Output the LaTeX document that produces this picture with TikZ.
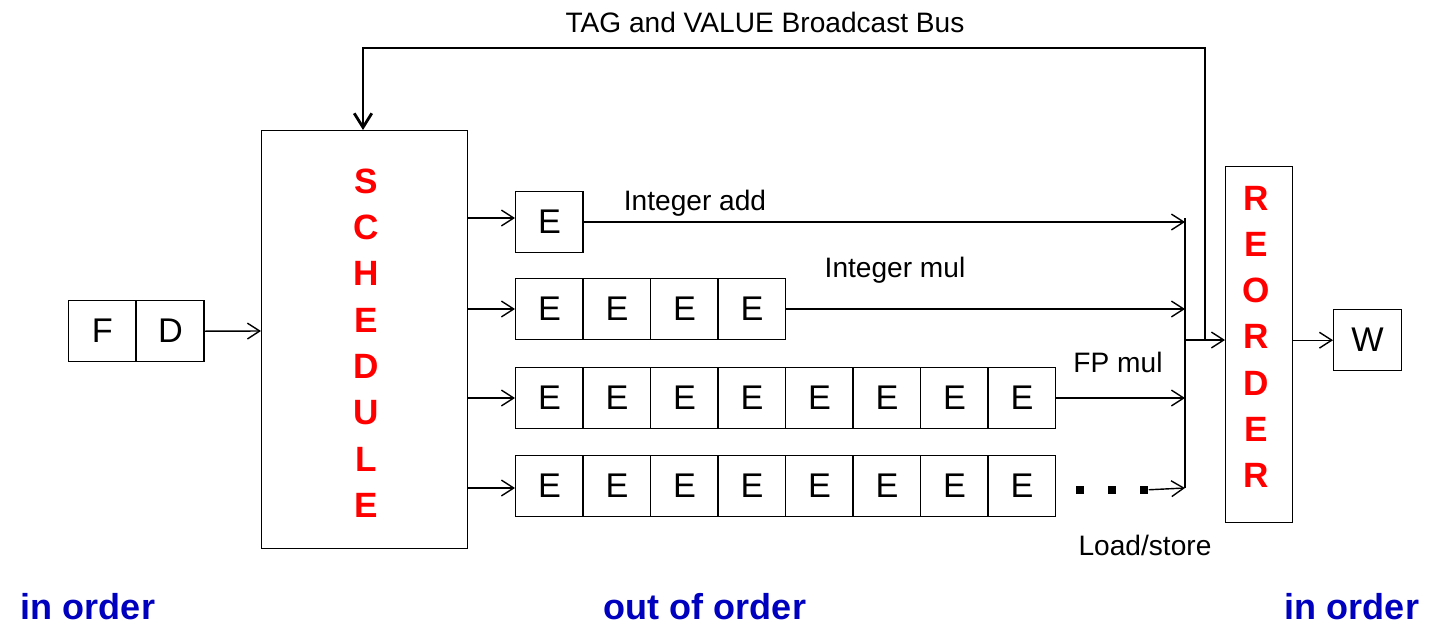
\documentclass[tikz,border=0pt]{standalone}
\usepackage{fontspec}
\setmainfont{Liberation Sans}
\usetikzlibrary{arrows.meta}
\begin{document}
\begin{tikzpicture}[x=0.02cm,y=-0.02cm,
  box/.style={draw,line width=0.8pt,minimum width=1.35cm,minimum height=1.22cm,inner sep=0pt,font=\fontsize{19.5}{19}\selectfont,anchor=north west},
  arr/.style={line width=0.8pt,-{Straight Barb[length=7pt,width=9pt]}},
  lab/.style={font=\fontsize{16}{16}\selectfont},
  dot/.style={fill,minimum size=5pt,inner sep=0pt},
  red letter/.style={text=red,font=\bfseries\fontsize{20}{20}\selectfont},
  blue/.style={text=blue!75!black,font=\bfseries\fontsize{20.5}{20}\selectfont}]
\useasboundingbox (0,0) rectangle (1440,633);
% F D
\node[box] (F) at (68,300) {F};
\node[box] (D) at (136,300) {D};
% schedule
\node[draw,line width=0.8pt,minimum width=4.12cm,minimum height=8.36cm,anchor=north west,inner sep=0pt] (S) at (261,130) {};
\foreach \l [count=\i] in {S,C,H,E,D,U,L,E}
  \node[red letter] (s\i) at (366,135+46.3*\i) {\l};
\coordinate (dIn) at (261,331);
\draw[arr] (D.east) -- (dIn);
% rows
\node[box] (r1e1) at (515,191) {E};
\foreach \i in {1,...,4} \node[box] (r2e\i) at (515+67.5*\i-67.5,278) {E};
\foreach \i in {1,...,8} \node[box] (r3e\i) at (515+67.5*\i-67.5,367) {E};
\foreach \i in {1,...,8} \node[box] (r4e\i) at (515+67.5*\i-67.5,455) {E};
\foreach \r/\y in {1/218,2/309,3/398,4/488} {
  \coordinate (sOut\r) at (467,\y);
}
\draw[arr] (sOut1) -- (r1e1.west |- sOut1);
\draw[arr] (sOut2) -- (r2e1.west |- sOut2);
\draw[arr] (sOut3) -- (r3e1.west |- sOut3);
\draw[arr] (sOut4) -- (r4e1.west |- sOut4);
% outputs
\coordinate (c1) at (1185,222);
\coordinate (c2) at (1185,309);
\coordinate (c3) at (1185,398);
\coordinate (c4) at (1185,488);
\draw[arr] (r1e1.east |- c1) -- (c1);
\draw[arr] (r2e4.east |- c2) -- (c2);
\draw[arr] (r3e8.east |- c3) -- (c3);
\node[dot] (dot1) at (1080,490) {};
\node[dot] (dot2) at (1112,490) {};
\node[dot] (dot3) at (1144,490) {};
\draw[arr] (dot3) -- (c4);
\draw[line width=0.8pt] (1185,218) -- (c4);
% reorder
\node[draw,line width=0.8pt,minimum width=1.34cm,minimum height=7.12cm,anchor=north west,inner sep=0pt] (R) at (1225,166) {};
\foreach \l [count=\i] in {R,E,O,R,D,E,R}
  \node[red letter] (o\i) at (1256,152+46.2*\i) {\l};
\coordinate (m) at (1185,340);
\draw[arr] (m) -- (R.west |- m);
\node[box] (W) at (1333,309) {W};
\draw[arr] (R.east |- W.west) -- (W.west);
% bus
\coordinate (b0) at (1205,340);
\coordinate (b1) at (1205,48);
\coordinate (b2) at (363,48);
\draw[line width=1.6pt,-{Straight Barb[length=8pt,width=10pt]}] (b0) -- (b1) -- (b2) -- (S.north -| b2);
% labels
\node[lab] (tb) at (765,22) {TAG and VALUE Broadcast Bus};
\node[lab] (ia) at (695,203) {Integer add};
\node[lab] (im) at (895,270) {Integer mul};
\node[lab] (fm) at (1118,362) {FP mul};
\node[lab] (ls) at (1145,545) {Load/store};
\node[blue] (io1) at (88,607) {in order};
\node[blue] (oo) at (705,607) {out of order};
\node[blue] (io2) at (1352,607) {in order};
\end{tikzpicture}
\end{document}
